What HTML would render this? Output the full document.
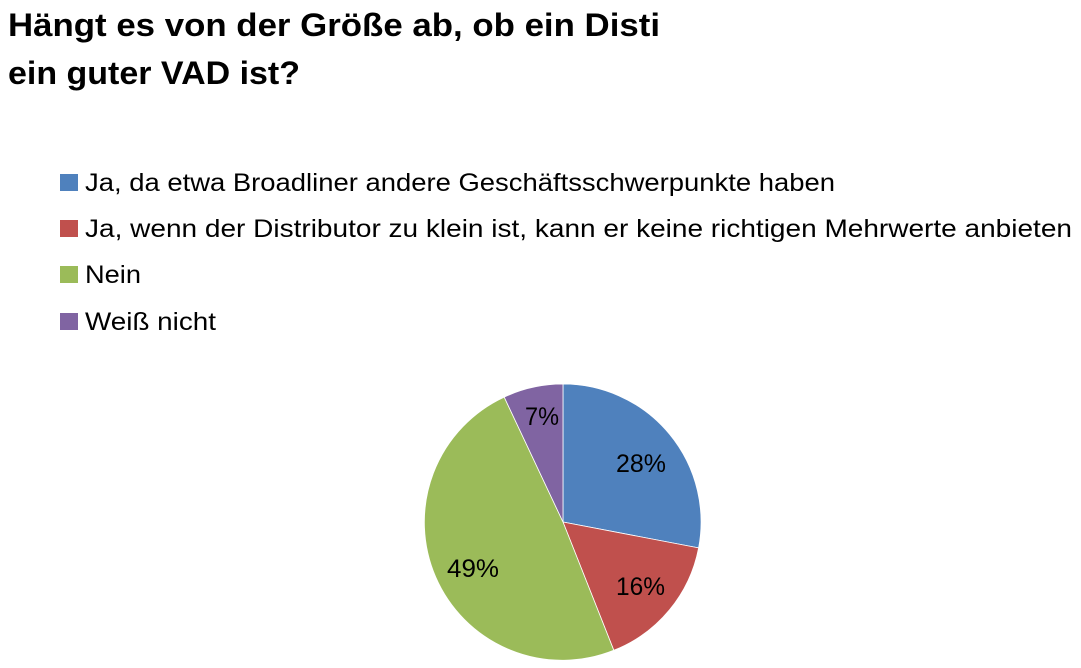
<!DOCTYPE html>
<html><head><meta charset="utf-8"><style>html,body{margin:0;padding:0;background:#fff}svg{display:block}</style></head>
<body>
<svg width="1081" height="668" viewBox="0 0 1081 668" xmlns="http://www.w3.org/2000/svg" font-family="Liberation Sans, sans-serif">
<text x="8" y="36" font-size="32" font-weight="bold" textLength="652" lengthAdjust="spacingAndGlyphs">Hängt es von der Größe ab, ob ein Disti</text>
<text x="8" y="84" font-size="32" font-weight="bold" textLength="292" lengthAdjust="spacingAndGlyphs">ein guter VAD ist?</text>
<rect x="60" y="174" width="18" height="17" fill="#4F81BD"/>
<rect x="60" y="220" width="18" height="17" fill="#C0504D"/>
<rect x="60" y="266" width="18" height="17" fill="#9BBB59"/>
<rect x="60" y="313" width="18" height="17" fill="#8064A2"/>
<g font-size="25" fill="#000">
<text x="85" y="191" textLength="750" lengthAdjust="spacingAndGlyphs">Ja, da etwa Broadliner andere Geschäftsschwerpunkte haben</text>
<text x="85" y="237" textLength="987" lengthAdjust="spacingAndGlyphs">Ja, wenn der Distributor zu klein ist, kann er keine richtigen Mehrwerte anbieten</text>
<text x="85" y="283" textLength="56" lengthAdjust="spacingAndGlyphs">Nein</text>
<text x="85" y="330" textLength="131" lengthAdjust="spacingAndGlyphs">Weiß nicht</text>
</g>
<g stroke="#fff" stroke-width="0.8">
<path d="M563,522 L563,384 A138,138 0 0 1 698.6,547.9 Z" fill="#4F81BD"/>
<path d="M563,522 L698.6,547.9 A138,138 0 0 1 613.8,650.3 Z" fill="#C0504D"/>
<path d="M563,522 L613.8,650.3 A138,138 0 0 1 504.2,397.1 Z" fill="#9BBB59"/>
<path d="M563,522 L504.2,397.1 A138,138 0 0 1 563,384 Z" fill="#8064A2"/>
</g>
<g font-size="25" fill="#000">
<text x="616" y="472" textLength="50" lengthAdjust="spacingAndGlyphs">28%</text>
<text x="616" y="595" textLength="49" lengthAdjust="spacingAndGlyphs">16%</text>
<text x="447" y="577" textLength="52" lengthAdjust="spacingAndGlyphs">49%</text>
<text x="525" y="425" textLength="34" lengthAdjust="spacingAndGlyphs">7%</text>
</g>
</svg>
</body></html>
